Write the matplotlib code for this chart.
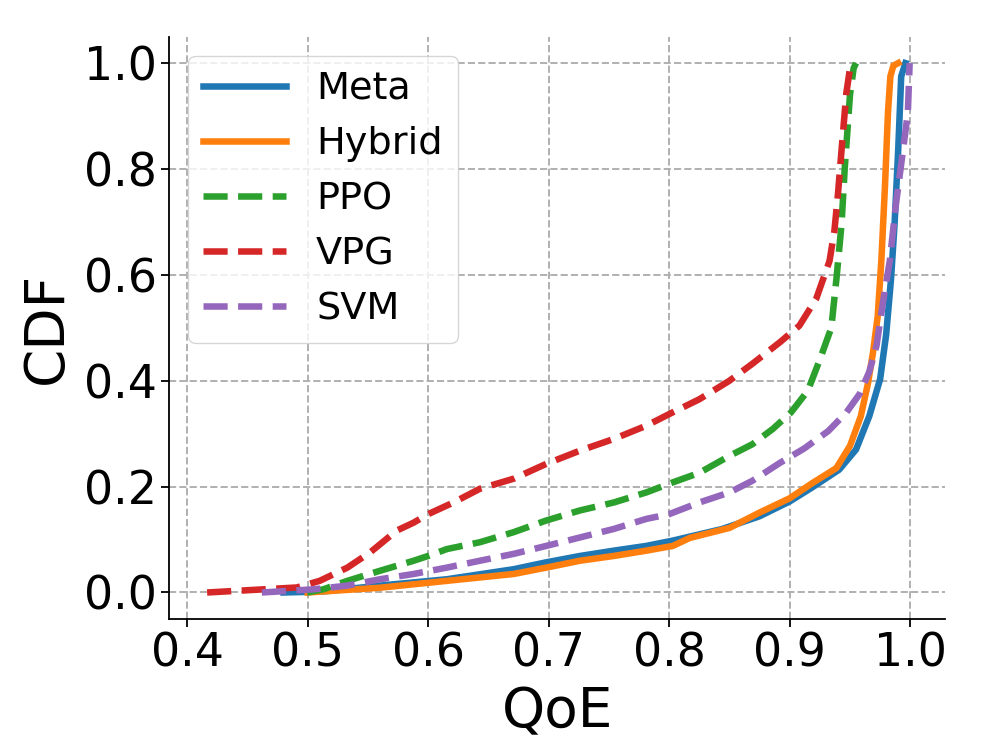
import matplotlib
matplotlib.use("Agg")
import matplotlib.pyplot as plt

# ---- data ----
meta_x = [0.48, 0.513, 0.56, 0.6155, 0.671, 0.698, 0.726, 0.754, 0.781, 0.803, 0.844, 0.875, 0.9,
          0.919, 0.941, 0.955, 0.966, 0.975, 0.98, 0.984, 0.987, 0.99, 0.9925, 0.996]
meta_y = [0.0, 0.002, 0.013, 0.025, 0.044, 0.057, 0.069, 0.079, 0.088, 0.098, 0.12, 0.144, 0.172,
          0.199, 0.232, 0.27, 0.333, 0.403, 0.487, 0.591, 0.696, 0.836, 0.975, 1.0]

hybrid_x = [0.50, 0.513, 0.56, 0.6155, 0.671, 0.698, 0.726, 0.754, 0.781, 0.803, 0.817, 0.85, 0.875,
            0.9, 0.919, 0.9387, 0.950, 0.959, 0.965, 0.969, 0.973, 0.976, 0.979, 0.9815, 0.9835,
            0.986, 0.99]
hybrid_y = [0.0, 0.002, 0.009, 0.022, 0.035, 0.047, 0.06, 0.069, 0.079, 0.088, 0.103, 0.122, 0.151,
            0.178, 0.207, 0.235, 0.277, 0.333, 0.396, 0.452, 0.522, 0.626, 0.766, 0.906, 0.975,
            0.995, 1.0]

ppo_x = [0.4995, 0.513, 0.533, 0.560, 0.588, 0.600, 0.6155, 0.643, 0.671, 0.698, 0.726, 0.754, 0.781,
         0.803, 0.825, 0.85, 0.869, 0.886, 0.901, 0.915, 0.925, 0.9345, 0.939, 0.943, 0.9456, 0.950,
         0.953, 0.955]
ppo_y = [0.0, 0.006, 0.022, 0.041, 0.060, 0.069, 0.082, 0.095, 0.114, 0.136, 0.155, 0.170, 0.189,
         0.208, 0.226, 0.258, 0.28, 0.309, 0.34, 0.381, 0.44, 0.50, 0.598, 0.696, 0.80, 0.94,
         0.99, 1.0]

vpg_x = [0.4166, 0.491, 0.510, 0.533, 0.552, 0.574, 0.588, 0.600, 0.621, 0.643, 0.671, 0.698, 0.726,
         0.754, 0.781, 0.8, 0.825, 0.85, 0.869, 0.892, 0.908, 0.922, 0.933, 0.937, 0.940, 0.943,
         0.947, 0.950, 0.952]
vpg_y = [0.0, 0.0095, 0.022, 0.047, 0.076, 0.117, 0.132, 0.148, 0.170, 0.196, 0.215, 0.243, 0.268,
         0.290, 0.315, 0.337, 0.365, 0.40, 0.432, 0.473, 0.504, 0.555, 0.626, 0.682, 0.752, 0.836,
         0.944, 0.99, 1.0]

svm_x = [0.462, 0.505, 0.533, 0.560, 0.588, 0.6155, 0.643, 0.671, 0.698, 0.726, 0.754, 0.781, 0.8,
         0.825, 0.85, 0.869, 0.892, 0.912, 0.932, 0.947, 0.958, 0.966, 0.972, 0.977, 0.983, 0.988,
         0.994, 0.998, 0.9995]
svm_y = [0.0, 0.006, 0.013, 0.025, 0.035, 0.047, 0.060, 0.073, 0.088, 0.104, 0.12, 0.139, 0.148,
         0.17, 0.189, 0.211, 0.245, 0.272, 0.305, 0.34, 0.375, 0.417, 0.466, 0.543, 0.626, 0.731,
         0.836, 0.906, 1.0]

labels = ["Meta", "Hybrid", "PPO", "VPG", "SVM"]
colors = ["#1f77b4", "#ff7f0e", "#2ca02c", "#d62728", "#9467bd"]
styles = ["-", "-", "--", "--", "--"]
xticks = [0.4, 0.5, 0.6, 0.7, 0.8, 0.9, 1.0]
yticks = [0.0, 0.2, 0.4, 0.6, 0.8, 1.0]

series = [(meta_x, meta_y), (hybrid_x, hybrid_y), (ppo_x, ppo_y), (vpg_x, vpg_y), (svm_x, svm_y)]

fig = plt.figure(figsize=(9.96, 7.47), dpi=100)
ax = fig.add_axes([0.1697, 0.1714, 0.949 - 0.1697, 0.951 - 0.1714])

lw = 4.7
for (xs, ys), lab, c, ls in zip(series, labels, colors, styles):
    ax.plot(xs, ys, ls, color=c, lw=lw, label=lab)

ax.set_xlim(0.385, 1.029)
ax.set_ylim(-0.05, 1.05)
ax.set_xticks(xticks)
ax.set_yticks(yticks)
ax.set_xticklabels([f"{t:.1f}" for t in xticks])
ax.set_yticklabels([f"{t:.1f}" for t in yticks])
ax.tick_params(labelsize=33, length=5.5, width=1.3)
ax.set_xlabel("QoE", fontsize=39.5, labelpad=6)
ax.set_ylabel("CDF", fontsize=39.5, labelpad=7)
ax.grid(True, linestyle="--", color="#b0b0b0", lw=1.4)
ax.spines["top"].set_visible(False)
ax.spines["right"].set_visible(False)
for s in ("left", "bottom"):
    ax.spines[s].set_linewidth(1.3)

ax.legend(loc="upper left", fontsize=27.5, handlelength=2.15, frameon=True)

fig.savefig("out.png", dpi=100)
